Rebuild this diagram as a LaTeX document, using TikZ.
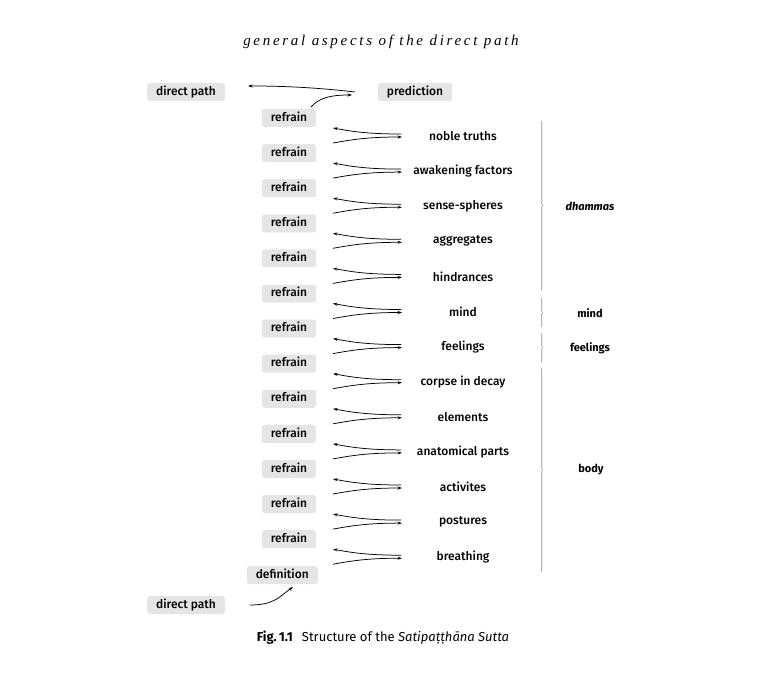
\documentclass[tikz,border=0pt]{standalone}
\usepackage{fontspec}
\setmainfont{Fira Sans}[UprightFont={* Medium},ItalicFont={* Medium Italic},BoldFont={* Bold},BoldItalicFont={* Bold Italic}]
\newfontfamily\capfont{Fira Sans}
\newfontfamily\titlefont[LetterSpace=18]{Liberation Serif}
\usetikzlibrary{arrows.meta,decorations.pathreplacing}
\tikzset{
  labelbox/.style={
    fill=black!10,
    rounded corners=0.1cm,
    inner xsep=9pt,
    minimum height=18pt,
    text height=1.6ex,
    text depth=0.4ex,
    font=\fontsize{12}{14}\selectfont
  },
  item/.style={
    inner sep=0pt,
    font=\fontsize{12}{14}\selectfont
  },
  group/.style={
    inner sep=0pt,
    font=\fontsize{11}{13}\selectfont\bfseries
  },
  link/.style={
    line width=0.75pt,
    -{Stealth[length=4.5pt,width=3pt]}
  },
  grouping/.style={
    draw=black!45,
    line width=0.6pt,
    decorate,
    decoration={brace,amplitude=1.5pt}
  }
}

\begin{document}
\begin{tikzpicture}[x=1pt,y=-1pt]
    \useasboundingbox (0,0) rectangle (768,690);
    % heading
    \node[font=\titlefont\fontsize{15}{17}\selectfont\itshape] (title) at (381,42) {general aspects of the direct path};
    % top of the sutta
    \node[labelbox] (pathtop) at (186,92) {direct path};
    \node[labelbox] (pred) at (415,92) {prediction};
    \coordinate (predl) at (355,92);
    \coordinate (pathtopr) at (248,86);
    \coordinate (firstr) at (311,107);
    \coordinate (predin) at (352,95);
    \draw[link] (predl) .. controls +(-35,-4) and +(40,0) .. (pathtopr);
    \draw[link] (firstr) .. controls +(8,-9) and +(-22,0) .. (predin);
    % refrains and objects
    \foreach \obj [count=\i] in {noble truths,awakening factors,sense-spheres,aggregates,hindrances,mind,feelings,corpse in decay,elements,anatomical parts,activites,postures,breathing}{
        \node[labelbox] (r\i) at (289,{118+35.1*(\i-1)}) {refrain};
        \node[item] (t\i) at (463,{136+35.1*(\i-1)}) {\obj};
        \coordinate (ur\i) at (401,{134+35.1*(\i-1)});
        \coordinate (ul\i) at (333,{128+35.1*(\i-1)});
        \coordinate (ll\i) at (333,{143+35.1*(\i-1)});
        \coordinate (lr\i) at (402,{137+35.1*(\i-1)});
        \draw[link] (ur\i) .. controls +(-36,0) and +(17,3) .. (ul\i);
        \draw[link] (ll\i) .. controls +(17,-3) and +(-36,0) .. (lr\i);
    }
    % bottom of the sutta
    \node[labelbox,anchor=east] (defn) at (318,575) {definition};
    \node[labelbox] (pathbot) at (186,605) {direct path};
    \coordinate (pathbotr) at (250,605);
    \coordinate (defnin) at (293,587);
    \draw[link] (pathbotr) .. controls +(25,0) and +(-13,9) .. (defnin);
    % the four groups
    \draw[grouping] (541,121) -- (541,290);
    \draw[grouping] (541,298) -- (541,327);
    \draw[grouping] (541,333) -- (541,362);
    \draw[grouping] (541,368) -- (541,572);
    \node[group,font=\fontsize{11}{13}\selectfont\bfseries\itshape] (dham) at (590,206) {dhammas};
    \node[group] (mindg) at (590,313) {mind};
    \node[group] (feelg) at (590,348) {feelings};
    \node[group] (bodyg) at (591,470) {body};
    % caption
    \node[font=\capfont\fontsize{13}{15}\selectfont] (cap) at (383,638) {\textbf{Fig.\,1.1}\hspace{0.7em}Structure of the \textit{Satipaṭṭhāna Sutta}};
\end{tikzpicture}
\end{document}
